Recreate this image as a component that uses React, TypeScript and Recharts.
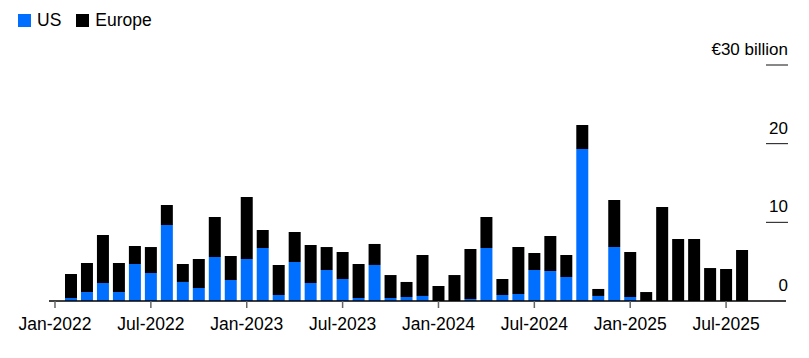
import React from 'react';
import { BarChart, Bar, XAxis, YAxis } from 'recharts';

// monthly deal value, € billion (Feb 2022 .. Aug 2025)
const months = [
  '2022-02', '2022-03', '2022-04', '2022-05', '2022-06', '2022-07', '2022-08', '2022-09', '2022-10', '2022-11', '2022-12',
  '2023-01', '2023-02', '2023-03', '2023-04', '2023-05', '2023-06', '2023-07', '2023-08', '2023-09', '2023-10', '2023-11', '2023-12',
  '2024-01', '2024-02', '2024-03', '2024-04', '2024-05', '2024-06', '2024-07', '2024-08', '2024-09', '2024-10', '2024-11', '2024-12',
  '2025-01', '2025-02', '2025-03', '2025-04', '2025-05', '2025-06', '2025-07', '2025-08',
];

const us = [
  0.38, 1.14, 2.29, 1.14, 4.7, 3.56, 9.66, 2.42, 1.65, 5.59, 2.67,
  5.34, 6.74, 0.76, 4.96, 2.29, 3.94, 2.8, 0.38, 4.58, 0.38, 0.51, 0.64,
  0, 0, 0.25, 6.74, 0.76, 0.89, 3.94, 3.81, 3.05, 19.32, 0.64, 6.86,
  0.51, 0, 0, 0, 0, 0, 0, 0,
];

const europe = [
  3.05, 3.69, 6.1, 3.69, 2.29, 3.3, 2.54, 2.28, 3.69, 5.09, 3.05,
  7.88, 2.28, 3.82, 3.81, 4.83, 2.92, 3.43, 4.32, 2.67, 2.92, 1.91, 5.21,
  1.91, 3.3, 6.36, 3.94, 2.04, 5.97, 2.16, 4.45, 2.8, 3.05, 0.89, 5.98,
  5.72, 1.14, 11.95, 7.88, 7.88, 4.19, 4.07, 6.48,
];

const xTicks = [0, 6, 12, 18, 24, 30, 36, 42];
const yTicks = [0, 10, 20, 30];
const monthNames = ['Jan', 'Feb', 'Mar', 'Apr', 'May', 'Jun', 'Jul', 'Aug', 'Sep', 'Oct', 'Nov', 'Dec'];

const BLUE = '#006eff';
const FONT = '"Liberation Sans", Arial, sans-serif';
const W = 781;
const H = 340;

// month index counted from Jan 2022
const data = months.map((m, i) => {
  const [y, mo] = m.split('-').map(Number);
  return { m: (y - 2022) * 12 + (mo - 1), us: us[i], europe: europe[i] };
});

const fmtMonth = (v: number) => `${monthNames[v % 12]}-${2022 + Math.floor(v / 12)}`;

const renderYTick = (props: any) => {
  const { y, payload } = props;
  const v = payload.value;
  const right = W - 1;
  return (
    <g key={`yt-${v}`}>
      {v !== 0 && <line x1={right - 22} x2={right} y1={y} y2={y} stroke="#111" strokeWidth={1} />}
      <text x={right} y={y - 10} textAnchor="end" fontSize={17} fontFamily={FONT} fill="#000">
        {v === 30 ? '€30 billion' : v}
      </text>
    </g>
  );
};

const LegendItem = ({ color, label }: { color: string; label: string }) => (
  <span style={{ display: 'inline-flex', alignItems: 'center', marginRight: 15 }}>
    <span style={{ width: 13, height: 13, background: color, display: 'inline-block', marginRight: 6 }} />
    <span>{label}</span>
  </span>
);

const App: React.FC = () => {
  return (
    <div style={{ position: 'relative', width: W, height: H, fontFamily: FONT }}>
      <div
        style={{
          position: 'absolute',
          left: 10,
          top: 2,
          fontSize: 17.5,
          color: '#000',
          display: 'flex',
          zIndex: 1,
        }}
      >
        <LegendItem color={BLUE} label="US" />
        <LegendItem color="#000" label="Europe" />
      </div>
      <BarChart width={W} height={H} data={data} margin={{ top: 57, right: 2, left: 41, bottom: 0 }}>
        <XAxis
          dataKey="m"
          type="number"
          domain={[-0.375, 45.75]}
          ticks={xTicks}
          tickFormatter={fmtMonth}
          height={47}
          axisLine={{ stroke: '#000', strokeWidth: 1.5 }}
          tickLine={{ stroke: '#666', strokeWidth: 1.5 }}
          tickSize={7}
          tickMargin={10}
          tick={{ fontSize: 17.5, fill: '#000', fontFamily: FONT }}
          allowDataOverflow
        />
        <YAxis
          orientation="right"
          width={1}
          type="number"
          domain={[0, 30]}
          ticks={yTicks}
          axisLine={false}
          tickLine={false}
          tick={renderYTick}
          interval={0}
        />
        <Bar dataKey="us" stackId="a" fill={BLUE} barSize={12} isAnimationActive={false} />
        <Bar dataKey="europe" stackId="a" fill="#000" barSize={12} isAnimationActive={false} />
      </BarChart>
    </div>
  );
};

export default App;
